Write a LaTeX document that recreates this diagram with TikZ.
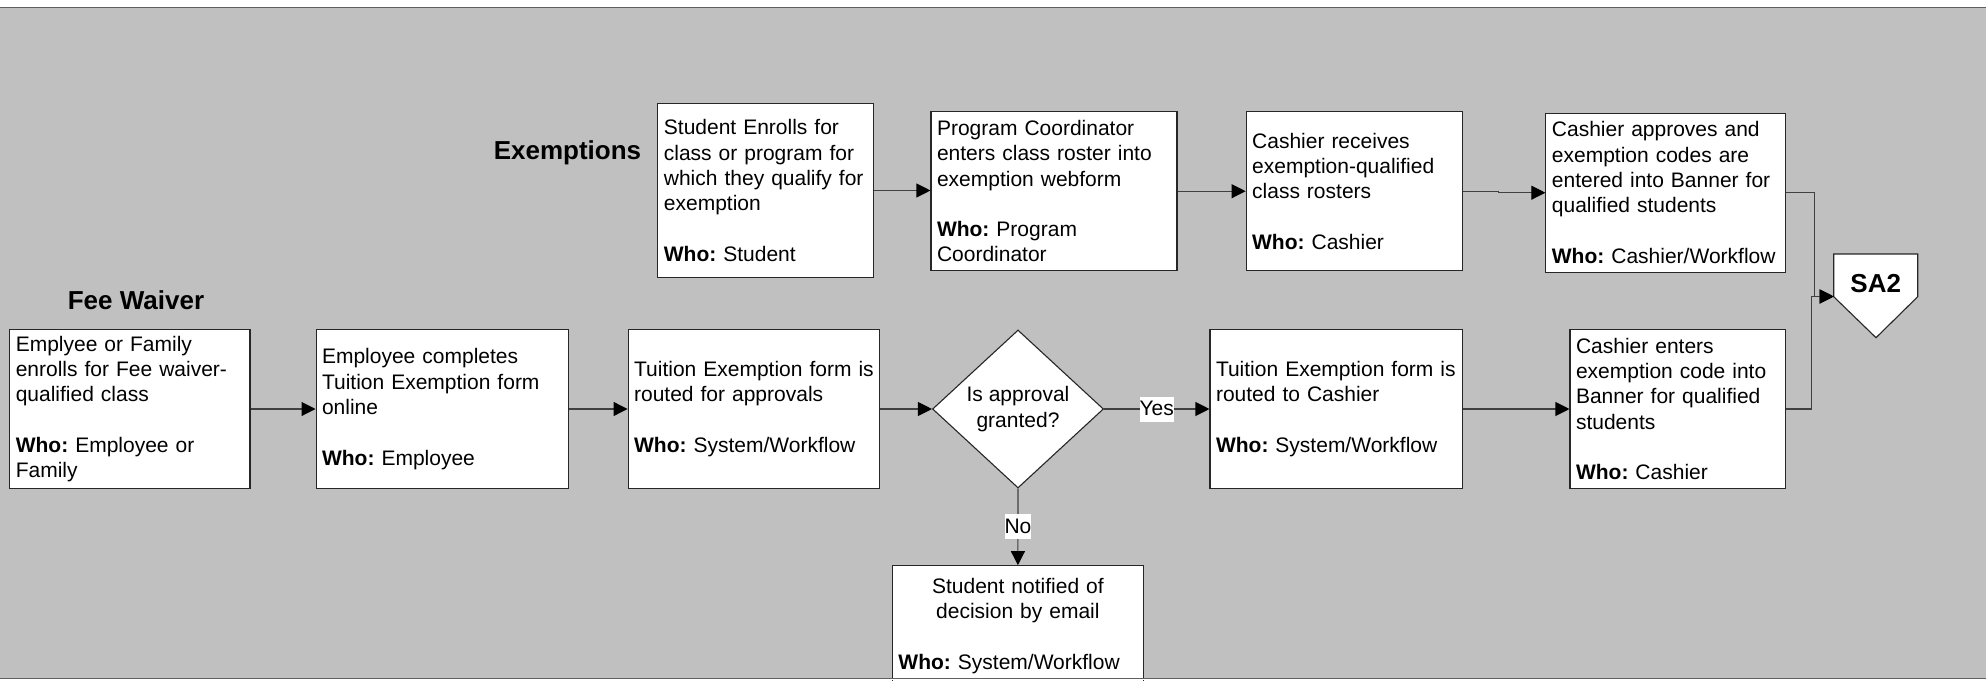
\documentclass[tikz,border=0pt]{standalone}
\usepackage{fontspec}
\setmainfont{Liberation Sans}
\usetikzlibrary{shapes.geometric,arrows.meta,calc}
\definecolor{bggray}{HTML}{C0C0C0}
\definecolor{framegray}{HTML}{606060}
\definecolor{linegray}{HTML}{404040}
\newcommand{\dgbody}{\fontsize{21pt}{25.3pt}\selectfont\frenchspacing}
\newcommand{\dghead}{\bfseries\fontsize{26pt}{31pt}\selectfont}
\tikzset{
  proc/.style={draw=black!85, line width=1.1pt, fill=white, align=left,
    inner xsep=6pt, inner ysep=0pt, font=\dgbody},
  decision/.style={diamond, draw=black!85, line width=1.1pt, fill=white,
    align=center, inner sep=0pt, font=\dgbody},
  conn/.style={draw=linegray, line width=1.1pt,
    -{Triangle[length=14pt,width=14pt,black]}},
  lbl/.style={fill=white, inner xsep=0pt, inner ysep=1pt, text height=18pt,
    text depth=5pt, font=\dgbody},
  heading/.style={font=\dghead, inner sep=0pt},
  frameline/.style={draw=framegray, line width=1.4pt}
}
\begin{document}
\begin{tikzpicture}[x=1pt,y=-1pt]
\useasboundingbox (0,0) rectangle (1986,680);
\fill[white] (0,0) rectangle (1986,680);
\fill[bggray] (0,7.3) rectangle (1986,678.5);

% headings
\node[heading, anchor=base] (hex) at (567.5,159.3) {Exemptions};
\node[heading, anchor=base] (hfw) at (136,309.3) {Fee Waiver};

% top row (Exemptions)
\node[proc, minimum width=215.6pt, minimum height=174.4pt, text width=203.6pt] (SE) at (765.7,190.5)
  {Student Enrolls for\\class or program for\\which they qualify for\\exemption\\[25.3pt]\textbf{Who:} Student};
\node[proc, minimum width=246pt, minimum height=159pt, text width=234pt] (PC) at (1054,191.2)
  {Program Coordinator\\enters class roster into\\exemption webform\\[25.3pt]\textbf{Who:} Program\\Coordinator};
\node[proc, minimum width=216.1pt, minimum height=159pt, text width=204.1pt] (CR) at (1354.2,191.2)
  {Cashier receives\\exemption-qualified\\class rosters\\[25.3pt]\textbf{Who:} Cashier};
\node[proc, minimum width=239.6pt, minimum height=158.7pt, text width=227.6pt] (CA) at (1665.7,192.7)
  {Cashier approves and\\exemption codes are\\entered into Banner for\\qualified students\\[25.3pt]\textbf{Who:} Cashier/Workflow};

% bottom row (Fee Waiver)
\node[proc, minimum width=240.2pt, minimum height=159.4pt, text width=228.2pt] (EF) at (129.9,409)
  {Emplyee or Family\\enrolls for Fee waiver-\\qualified class\\[25.3pt]\textbf{Who:} Employee or\\Family};
\node[proc, minimum width=252.3pt, minimum height=159.4pt, text width=240.3pt] (ECT) at (442.2,409)
  {Employee completes\\Tuition Exemption form\\online\\[25.3pt]\textbf{Who:} Employee};
\node[proc, minimum width=251.8pt, minimum height=159.4pt, text width=239.8pt] (TRA) at (754,409)
  {Tuition Exemption form is\\routed for approvals\\[25.3pt]\textbf{Who:} System/Workflow};
\node[decision, minimum width=171pt, minimum height=158pt] (D) at (1018,409)
  {Is approval\\granted?};
\node[proc, minimum width=252.2pt, minimum height=159.4pt, text width=240.2pt] (TRC) at (1336.1,409)
  {Tuition Exemption form is\\routed to Cashier\\[25.3pt]\textbf{Who:} System/Workflow};
\node[proc, minimum width=215.5pt, minimum height=159.4pt, text width=203.5pt] (CE) at (1677.75,409)
  {Cashier enters\\exemption code into\\Banner for qualified\\students\\[25.3pt]\textbf{Who:} Cashier};
\node[proc, align=center, minimum width=250.9pt, minimum height=120.4pt, text width=238.9pt] (SN) at (1017.9,625.9)
  {Student notified of\\decision by email\\[25.3pt]\makebox[238.9pt][l]{\textbf{Who:} System/Workflow}};

% off-page connector SA2
\draw[draw=black!85, line width=1.1pt, fill=white]
  (1833.7,254) -- (1917.7,254) -- (1917.7,296.7) -- (1876,337.7) -- (1833.7,296.7) -- cycle;
\node[heading, anchor=base] (SA2) at (1875.7,292.3) {SA2};
\coordinate (sa2in) at (1833.7,296.5);

% connectors
\draw[conn] (SE.east) -- (SE.east -| PC.west);
\draw[conn] (PC.east) -- (CR.west);
\draw[conn] (CR.east) -- ++(36,0) |- (CA.west);
\draw[conn] (CA.east) -- ++(28.8,0) |- (sa2in);
\draw[conn] (CE.east) -- ++(25,0) |- (sa2in);
\draw[conn] (EF.east) -- (ECT.west);
\draw[conn] (ECT.east) -- (TRA.west);
\draw[conn] (TRA.east) -- (D.west);
\draw[conn] (D.east) -- node[lbl] (yes) {Yes} (TRC.west);
\draw[conn] (D.south) -- node[lbl] (no) {No} (SN.north);
\draw[conn] (TRC.east) -- (CE.west);

% frame lines
\fill[white] (0,679.2) rectangle (1986,680);
\draw[frameline] (0,7.3) -- (1986,7.3);
\draw[frameline] (0,678.5) -- (1986,678.5);
\end{tikzpicture}
\end{document}
